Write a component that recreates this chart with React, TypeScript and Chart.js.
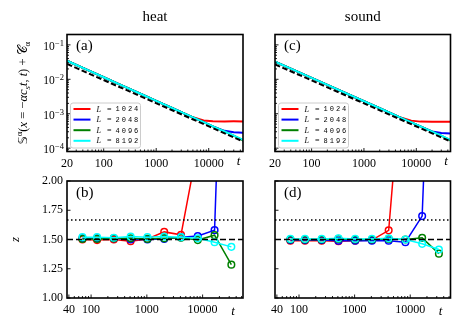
import React, { useEffect, useRef } from "react";
import { Chart, registerables } from "chart.js";

Chart.register(...registerables);

const W = 461;
const H = 329;
const SERIF = "'Liberation Serif', 'DejaVu Serif', serif";

const SERIES_LABELS = ["1024", "2048", "4096", "8192"];
const SERIES_COLORS = ["#ff0000", "#0000ff", "#008000", "#00ffff"];

// ---------- top row: S^alpha vs t ----------
const TOP_X_TICKS = [20, 100, 1000, 10000];
const TOP_X_MIN = 20;
const TOP_X_MAX = 45000;
const TOP_Y_MIN = 8e-5;
const TOP_Y_MAX = 0.2;
const TOP_Y_EXPONENTS = [-1, -2, -3, -4];

const topT = [20, 50, 100, 200, 500, 1000, 2000, 5000, 8000, 12000, 20000, 30000, 45000];
const heatS1024 = [0.0345, 0.0184, 0.01146, 0.00712, 0.0038, 0.00237, 0.00147, 0.000786, 0.00064, 0.000605, 0.000598, 0.0006, 0.000597];
const heatS2048 = [0.0345, 0.0184, 0.01146, 0.00712, 0.0038, 0.00237, 0.00147, 0.000786, 0.000569, 0.000431, 0.000318, 0.00029, 0.00028];
const heatS4096 = [0.0345, 0.0184, 0.01146, 0.00712, 0.0038, 0.00237, 0.00147, 0.000786, 0.000569, 0.000431, 0.000305, 0.000232, 0.000168];
const heatS8192 = [0.0345, 0.0184, 0.01146, 0.00712, 0.0038, 0.00237, 0.00147, 0.000786, 0.000569, 0.000431, 0.000304, 0.00023, 0.000175];
const soundS1024 = [0.0325, 0.0175, 0.011, 0.00686, 0.00368, 0.00231, 0.00144, 0.000775, 0.00063, 0.00059, 0.000585, 0.000585, 0.000583];
const soundS2048 = [0.0325, 0.0175, 0.011, 0.00686, 0.00368, 0.00231, 0.00144, 0.000775, 0.000563, 0.000428, 0.000305, 0.000275, 0.000268];
const soundS4096 = [0.0325, 0.0175, 0.011, 0.00686, 0.00368, 0.00231, 0.00144, 0.000775, 0.000563, 0.000428, 0.000303, 0.000231, 0.000168];
const soundS8192 = [0.0325, 0.0175, 0.011, 0.00686, 0.00368, 0.00231, 0.00144, 0.000775, 0.000563, 0.000428, 0.000303, 0.00023, 0.000175];

const refT = [20, 45000];
const heatRef = [0.028, 0.000157];
const soundRef = [0.0272, 0.000157];

// ---------- bottom row: z vs t ----------
const BOTTOM_X_TICKS = [40, 100, 1000, 10000];
const BOTTOM_X_MIN = 37;
const BOTTOM_X_MAX = 53000;
const BOTTOM_Y_TICKS = [1.0, 1.25, 1.5, 1.75, 2.0];
const Z_KPZ = 1.5;
const Z_LEVY = 5 / 3;

const zT = [70, 128, 256, 512, 1024, 2048, 4096, 8192, 16384, 32768];
const heatZ1024 = [1.5, 1.495, 1.5, 1.485, 1.505, 1.565, 1.54, 2.3, null, null];
const heatZ2048 = [1.51, 1.51, 1.51, 1.5, 1.5, 1.505, 1.52, 1.53, 1.58, 5.8];
const heatZ4096 = [1.505, 1.505, 1.51, 1.51, 1.505, 1.51, 1.515, 1.495, 1.537, 1.285];
const heatZ8192 = [1.52, 1.52, 1.515, 1.525, 1.52, 1.525, 1.52, 1.51, 1.477, 1.437];
const soundZ1024 = [1.49, 1.49, 1.49, 1.485, 1.49, 1.495, 1.578, 3.3, null, null];
const soundZ2048 = [1.495, 1.495, 1.495, 1.49, 1.49, 1.49, 1.49, 1.477, 1.7, 5.4];
const soundZ4096 = [1.5, 1.5, 1.5, 1.505, 1.5, 1.5, 1.505, 1.5, 1.514, 1.379];
const soundZ8192 = [1.505, 1.505, 1.505, 1.51, 1.505, 1.505, 1.51, 1.5, 1.463, 1.414];

type Area = { l: number; t: number; r: number; b: number };
type RefLine = { xs: number[]; ys: number[]; dash: number[]; width: number };
type PanelCfg = {
  key: string;
  row: "top" | "bottom";
  area: Area;
  xs: number[];
  series: (number | null)[][];
  refs: RefLine[];
  letter: string;
  showY: boolean;
  title?: string;
  yLabel?: "S" | "z";
};

const LEFT_X = { l: 67, r: 243 };
const RIGHT_X = { l: 275, r: 450.5 };
const TOP_Y = { t: 34.5, b: 151.5 };
const BOT_Y = { t: 181, b: 298 };

const PANELS: PanelCfg[] = [
  {
    key: "a", row: "top", area: { l: LEFT_X.l, r: LEFT_X.r, t: TOP_Y.t, b: TOP_Y.b },
    xs: topT, series: [heatS1024, heatS2048, heatS4096, heatS8192],
    refs: [{ xs: refT, ys: heatRef, dash: [5.5, 2.5], width: 2 }],
    letter: "(a)", showY: true, title: "heat", yLabel: "S",
  },
  {
    key: "c", row: "top", area: { l: RIGHT_X.l, r: RIGHT_X.r, t: TOP_Y.t, b: TOP_Y.b },
    xs: topT, series: [soundS1024, soundS2048, soundS4096, soundS8192],
    refs: [{ xs: refT, ys: soundRef, dash: [5.5, 2.5], width: 2 }],
    letter: "(c)", showY: false, title: "sound",
  },
  {
    key: "b", row: "bottom", area: { l: LEFT_X.l, r: LEFT_X.r, t: BOT_Y.t, b: BOT_Y.b },
    xs: zT, series: [heatZ1024, heatZ2048, heatZ4096, heatZ8192],
    refs: [
      { xs: [BOTTOM_X_MIN, BOTTOM_X_MAX], ys: [Z_KPZ, Z_KPZ], dash: [6, 3], width: 1.5 },
      { xs: [BOTTOM_X_MIN, BOTTOM_X_MAX], ys: [Z_LEVY, Z_LEVY], dash: [1.5, 2.5], width: 1.5 },
    ],
    letter: "(b)", showY: true, yLabel: "z",
  },
  {
    key: "d", row: "bottom", area: { l: RIGHT_X.l, r: RIGHT_X.r, t: BOT_Y.t, b: BOT_Y.b },
    xs: zT, series: [soundZ1024, soundZ2048, soundZ4096, soundZ8192],
    refs: [
      { xs: [BOTTOM_X_MIN, BOTTOM_X_MAX], ys: [Z_KPZ, Z_KPZ], dash: [6, 3], width: 1.5 },
      { xs: [BOTTOM_X_MIN, BOTTOM_X_MAX], ys: [Z_LEVY, Z_LEVY], dash: [1.5, 2.5], width: 1.5 },
    ],
    letter: "(d)", showY: false,
  },
];

type Seg = { t: string; s: number; it?: boolean; dy?: number; fam?: string };
const S_LABEL: Seg[] = [
  { t: "𝕊", s: 1, fam: "'DejaVu Sans', serif" },
  { t: "α", s: 0.7, dy: -5 },
  { t: "(", s: 1 },
  { t: "x", s: 1, it: true },
  { t: " = ", s: 1 },
  { t: "−", s: 1 },
  { t: "α", s: 1, it: true },
  { t: "c", s: 1, it: true },
  { t: "s", s: 0.7, it: true, dy: 2.5 },
  { t: "t", s: 1, it: true },
  { t: ", ", s: 1 },
  { t: "t", s: 1, it: true },
  { t: ")", s: 1 },
  { t: " + ", s: 1 },
  { t: "𝒞", s: 1, fam: "'DejaVu Sans', serif" },
  { t: "α", s: 0.7, dy: 2.5 },
];

function drawRotatedRich(ctx: CanvasRenderingContext2D, segs: Seg[], base: number, cx: number, cy: number) {
  ctx.save();
  ctx.translate(cx, cy);
  ctx.rotate(-Math.PI / 2);
  ctx.textBaseline = "alphabetic";
  ctx.textAlign = "left";
  ctx.fillStyle = "#000";
  const fontOf = (g: Seg) => `${g.it ? "italic " : ""}${base * g.s}px ${g.fam || SERIF}`;
  let total = 0;
  for (const g of segs) { ctx.font = fontOf(g); total += ctx.measureText(g.t).width; }
  let x = -total / 2;
  for (const g of segs) {
    ctx.font = fontOf(g);
    ctx.fillText(g.t, x, g.dy || 0);
    x += ctx.measureText(g.t).width;
  }
  ctx.restore();
}

function logTickList(min: number, max: number, majors: number[]) {
  const out: { v: number; major: boolean }[] = [];
  for (let e = Math.floor(Math.log10(min)) - 1; e <= Math.ceil(Math.log10(max)); e++) {
    for (let k = 1; k <= 9; k++) {
      const v = k * Math.pow(10, e);
      if (v < min * 0.9999 || v > max * 1.0001) continue;
      const major = k === 1 || majors.some((m) => Math.abs(m - v) / v < 1e-6);
      out.push({ v, major });
    }
  }
  return out;
}

function makeDecor(p: PanelCfg) {
  return {
    id: "decor_" + p.key,
    afterDraw(chart: any) {
      const ctx: CanvasRenderingContext2D = chart.ctx;
      const { left, right, top, bottom } = chart.chartArea;
      const xs = chart.scales.x;
      const ys = chart.scales.y;
      const isTop = p.row === "top";
      ctx.save();
      ctx.strokeStyle = "#000";
      ctx.lineWidth = 0.9;
      const xMaj = isTop ? TOP_X_TICKS : BOTTOM_X_TICKS;
      for (const tk of logTickList(xs.min, xs.max, xMaj)) {
        const px = xs.getPixelForValue(tk.v);
        const len = tk.major ? 3.5 : 2;
        ctx.beginPath();
        ctx.moveTo(px, bottom);
        ctx.lineTo(px, bottom - len);
        ctx.stroke();
      }
      if (isTop) {
        for (const tk of logTickList(ys.min, ys.max, [])) {
          const py = ys.getPixelForValue(tk.v);
          const len = tk.major ? 3.5 : 2;
          ctx.beginPath();
          ctx.moveTo(left, py);
          ctx.lineTo(left + len, py);
          ctx.stroke();
        }
      } else {
        for (const v of BOTTOM_Y_TICKS) {
          const py = ys.getPixelForValue(v);
          ctx.beginPath();
          ctx.moveTo(left, py);
          ctx.lineTo(left + 3.5, py);
          ctx.stroke();
        }
      }
      ctx.lineWidth = 1.6;
      ctx.strokeRect(left, top, right - left, bottom - top);

      ctx.fillStyle = "#000";
      if (isTop && p.showY) {
        for (const e of TOP_Y_EXPONENTS) {
          const py = ys.getPixelForValue(Math.pow(10, e));
          const expText = "−" + String(-e);
          ctx.font = `8.5px ${SERIF}`;
          ctx.textAlign = "right";
          ctx.textBaseline = "alphabetic";
          const ew = ctx.measureText(expText).width;
          const xr = left - 3;
          ctx.fillText(expText, xr, py + 1);
          ctx.font = `11.5px ${SERIF}`;
          ctx.fillText("10", xr - ew - 0.3, py + 5);
        }
      }
      ctx.font = `15px ${SERIF}`;
      ctx.textAlign = "left";
      ctx.textBaseline = "middle";
      ctx.fillText(p.letter, left + 9, top + 12);
      ctx.font = `italic 13px ${SERIF}`;
      ctx.textAlign = "center";
      ctx.textBaseline = "middle";
      if (isTop) ctx.fillText("t", right - 4.5, bottom + 10.5);
      else ctx.fillText("t", right - 10, bottom + 13.5);
      if (p.title) {
        ctx.font = `15px ${SERIF}`;
        ctx.textAlign = "center";
        ctx.textBaseline = "alphabetic";
        ctx.fillText(p.title, (left + right) / 2, 20.5);
      }
      if (p.yLabel === "S") {
        drawRotatedRich(ctx, S_LABEL, 12.5, 27, (top + bottom) / 2);
      } else if (p.yLabel === "z") {
        drawRotatedRich(ctx, [{ t: "z", s: 1, it: true }], 13, 18.5, (top + bottom) / 2);
      }
      if (isTop) {
        const bw = 70;
        const bh = 45;
        const bx = left + 3.5;
        const by = bottom - 3.5 - bh;
        ctx.beginPath();
        (ctx as any).roundRect(bx, by, bw, bh, 2.5);
        ctx.fillStyle = "rgba(255,255,255,0.8)";
        ctx.fill();
        ctx.strokeStyle = "#cccccc";
        ctx.lineWidth = 1;
        ctx.stroke();
        SERIES_LABELS.forEach((lab, i) => {
          const ry = by + 6 + i * 10.6;
          ctx.strokeStyle = SERIES_COLORS[i];
          ctx.lineWidth = 2;
          ctx.beginPath();
          ctx.moveTo(bx + 3, ry);
          ctx.lineTo(bx + 20, ry);
          ctx.stroke();
          ctx.fillStyle = "#000";
          ctx.textAlign = "left";
          ctx.textBaseline = "middle";
          ctx.font = `italic 8px ${SERIF}`;
          ctx.fillText("L", bx + 26, ry + 0.5);
          ctx.font = `8px ${SERIF}`;
          ctx.fillText("=", bx + 36.5, ry + 0.5);
          ctx.font = `7px 'Liberation Mono', 'DejaVu Sans Mono', monospace`;
          (ctx as any).letterSpacing = "2px";
          ctx.fillText(lab, bx + 45, ry + 0.5);
          (ctx as any).letterSpacing = "0px";
        });
      }
      ctx.restore();
    },
  };
}

function buildConfig(p: PanelCfg): any {
  const isTop = p.row === "top";
  const datasets: any[] = [];
  p.series.forEach((vals, i) => {
    datasets.push({
      label: "L = " + SERIES_LABELS[i],
      data: p.xs.map((x, j) => ({ x, y: vals[j] })),
      borderColor: SERIES_COLORS[i],
      backgroundColor: SERIES_COLORS[i],
      borderWidth: isTop ? 2 : 1.5,
      pointRadius: isTop ? 0 : 3.3,
      pointHoverRadius: isTop ? 0 : 3.3,
      pointBorderWidth: 1.5,
      pointBackgroundColor: "rgba(0,0,0,0)",
      pointBorderColor: SERIES_COLORS[i],
      pointStyle: "circle",
      tension: 0,
      spanGaps: false,
      order: 4 - i,
      clip: 0,
    });
  });
  p.refs.forEach((r) => {
    datasets.push({
      label: "ref",
      data: r.xs.map((x, j) => ({ x, y: r.ys[j] })),
      borderColor: "#000",
      borderWidth: r.width,
      borderDash: r.dash,
      pointRadius: 0,
      tension: 0,
      order: 0,
      clip: 0,
    });
  });

  const tickFont = { family: SERIF, size: 12 };
  const xTicks = isTop ? TOP_X_TICKS : BOTTOM_X_TICKS;
  const xH = H - p.area.b;
  const yW = p.area.l;
  return {
    type: "line",
    data: { datasets },
    plugins: [makeDecor(p)],
    options: {
      animation: false,
      responsive: false,
      devicePixelRatio: 1,
      events: [],
      layout: {
        autoPadding: false,
        padding: { left: 0, top: p.area.t, right: W - p.area.r, bottom: 0 },
      },
      plugins: { legend: { display: false }, tooltip: { enabled: false } },
      scales: {
        x: {
          type: "logarithmic",
          min: isTop ? TOP_X_MIN : BOTTOM_X_MIN,
          max: isTop ? TOP_X_MAX : BOTTOM_X_MAX,
          afterFit: (s: any) => { s.height = xH; },
          afterBuildTicks: (s: any) => { s.ticks = xTicks.map((v) => ({ value: v })); },
          ticks: {
            display: true, autoSkip: false, maxRotation: 0, minRotation: 0, padding: 5,
            color: "#000", font: tickFont, callback: (v: any) => String(v),
          },
          grid: { display: false, drawTicks: false },
          border: { display: false },
        },
        y: isTop
          ? {
              type: "logarithmic", min: TOP_Y_MIN, max: TOP_Y_MAX,
              afterFit: (s: any) => { s.width = yW; },
              ticks: { display: false },
              grid: { display: false, drawTicks: false },
              border: { display: false },
            }
          : {
              type: "linear", min: 1, max: 2,
              afterFit: (s: any) => { s.width = yW; },
              afterBuildTicks: (s: any) => { s.ticks = BOTTOM_Y_TICKS.map((v) => ({ value: v })); },
              ticks: {
                display: p.showY, padding: 4, color: "#000", font: tickFont,
                callback: (v: any) => Number(v).toFixed(2),
              },
              grid: { display: false, drawTicks: false },
              border: { display: false },
            },
      },
    },
  };
}

function Panel({ cfg }: { cfg: PanelCfg }) {
  const ref = useRef<HTMLCanvasElement | null>(null);
  useEffect(() => {
    const canvas = ref.current;
    if (!canvas) return;
    const chart = new Chart(canvas, buildConfig(cfg));
    return () => chart.destroy();
  }, [cfg]);
  return (
    <canvas
      ref={ref}
      width={W}
      height={H}
      style={{ position: "absolute", left: 0, top: 0, width: W, height: H }}
    />
  );
}

export default function App() {
  return (
    <div style={{ position: "fixed", left: 0, top: 0, width: W, height: H, background: "#fff", overflow: "hidden" }}>
      {PANELS.map((p) => (
        <Panel key={p.key} cfg={p} />
      ))}
    </div>
  );
}
